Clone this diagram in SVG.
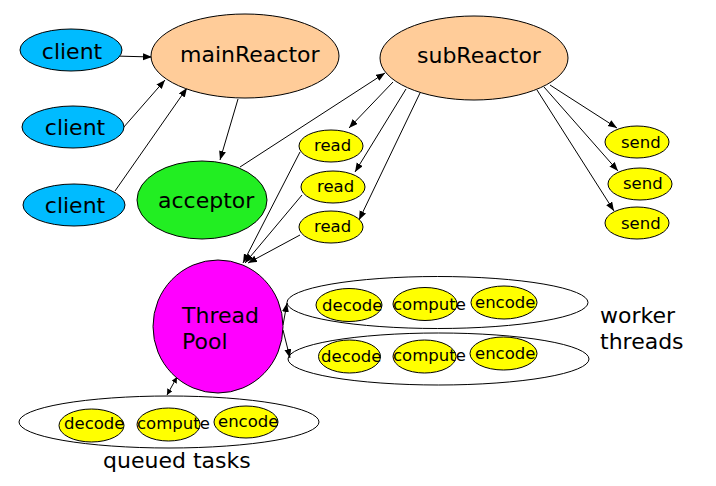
<svg xmlns="http://www.w3.org/2000/svg" width="716" height="486" viewBox="0 0 716 486">
<style>
  .n { stroke: #000; stroke-width: 1; }
  .client { fill: #00bbff; }
  .reactor { fill: #ffcc99; }
  .acc { fill: #22ee22; }
  .pool { fill: #ff00ff; }
  .y { fill: #ffff00; }
  .grp { fill: none; stroke: #000; stroke-width: 1; }
  .big { font-family: "DejaVu Sans", sans-serif; font-size: 22px; fill: #000; }
  .sm { font-family: "DejaVu Sans", sans-serif; font-size: 16.5px; fill: #000; }
  .c line { stroke: #000; stroke-width: 1; marker-end: url(#ah); }
</style>
<defs>
  <marker id="ah" markerUnits="userSpaceOnUse" markerWidth="10" markerHeight="8" refX="9" refY="3.5" orient="auto">
    <path d="M0,0 L9,3.5 L0,7 z" fill="#000"/>
  </marker>
  <marker id="ah2" markerUnits="userSpaceOnUse" markerWidth="8" markerHeight="7" refX="6" refY="3" orient="auto-start-reverse">
    <path d="M0,0 L6,3 L0,6 z" fill="#000"/>
  </marker>
</defs>
<rect width="716" height="486" fill="#fff"/>

<g id="connectors" class="c">
  <line x1="115" y1="56" x2="152" y2="57"/>
  <line x1="123" y1="128" x2="165" y2="80"/>
  <line x1="115" y1="191" x2="187" y2="88"/>
  <line x1="238" y1="99" x2="220" y2="160"/>
  <line x1="240" y1="167" x2="385" y2="73"/>
  <line x1="393" y1="82" x2="349" y2="128"/>
  <line x1="406" y1="89" x2="355" y2="172"/>
  <line x1="420" y1="93" x2="359" y2="220"/>
  <line x1="550" y1="85" x2="617" y2="128"/>
  <line x1="544" y1="87" x2="618" y2="171"/>
  <line x1="537" y1="90" x2="614" y2="211"/>
  <line x1="300" y1="152" x2="243" y2="263"/>
  <line x1="302" y1="195" x2="245" y2="263"/>
  <line x1="300" y1="235" x2="248" y2="263"/>
  <line x1="283" y1="325" x2="287" y2="303"/>
  <line x1="283" y1="330" x2="290" y2="358"/>
  <line x1="167" y1="395" x2="177" y2="377" style="marker-start:url(#ah2);marker-end:url(#ah2)"/>
</g>

<g id="client1"><ellipse class="n client" cx="71" cy="50" rx="51" ry="21"/><text class="big" x="72" y="59" text-anchor="middle">client</text></g>
<g id="client2"><ellipse class="n client" cx="73" cy="127" rx="51" ry="21"/><text class="big" x="75" y="135" text-anchor="middle">client</text></g>
<g id="client3"><ellipse class="n client" cx="74" cy="205" rx="51" ry="21"/><text class="big" x="75" y="213" text-anchor="middle">client</text></g>

<g id="mainReactor"><ellipse class="n reactor" cx="245" cy="56" rx="94" ry="42"/><text class="big" x="180" y="62">mainReactor</text></g>
<g id="subReactor"><ellipse class="n reactor" cx="474" cy="58" rx="94" ry="42"/><text class="big" x="417" y="63">subReactor</text></g>
<g id="acceptor"><ellipse class="n acc" cx="202" cy="200" rx="65" ry="39"/><text class="big" x="158" y="208">acceptor</text></g>

<g id="read1"><ellipse class="n y" cx="331" cy="146" rx="32" ry="16"/><text class="sm" x="314" y="151">read</text></g>
<g id="read2"><ellipse class="n y" cx="333" cy="187" rx="32" ry="16"/><text class="sm" x="317" y="192">read</text></g>
<g id="read3"><ellipse class="n y" cx="331" cy="227" rx="32" ry="16"/><text class="sm" x="314" y="232">read</text></g>

<g id="send1"><ellipse class="n y" cx="637" cy="142" rx="32" ry="16"/><text class="sm" x="621" y="148">send</text></g>
<g id="send2"><ellipse class="n y" cx="640" cy="184" rx="32" ry="16"/><text class="sm" x="623" y="189">send</text></g>
<g id="send3"><ellipse class="n y" cx="637" cy="223" rx="32" ry="16"/><text class="sm" x="621" y="229">send</text></g>

<g id="threadPool"><ellipse class="n pool" cx="218" cy="326.5" rx="65" ry="66.5"/><text class="big" x="182" y="323">Thread</text><text class="big" x="182" y="349">Pool</text></g>

<g id="worker1">
  <ellipse class="grp" cx="437.5" cy="302.5" rx="150.5" ry="26"/>
  <ellipse class="n y" cx="349" cy="305" rx="33" ry="16.5"/><text class="sm" x="322" y="311">decode</text>
  <ellipse class="n y" cx="425" cy="304" rx="32" ry="16.5"/><text class="sm" x="393" y="310">compute</text>
  <ellipse class="n y" cx="504" cy="302.5" rx="33" ry="16.5"/><text class="sm" x="475" y="308">encode</text>
</g>
<g id="worker2">
  <ellipse class="grp" cx="438.5" cy="359" rx="150.5" ry="26"/>
  <ellipse class="n y" cx="349.5" cy="356.5" rx="31" ry="16.5"/><text class="sm" x="321" y="362">decode</text>
  <ellipse class="n y" cx="424.5" cy="356.5" rx="31.5" ry="16.5"/><text class="sm" x="393" y="361">compute</text>
  <ellipse class="n y" cx="503.5" cy="353.5" rx="33.5" ry="16.5"/><text class="sm" x="475" y="359">encode</text>
</g>
<g id="workerLabel"><text class="big" x="600" y="323">worker</text><text class="big" x="600" y="349">threads</text></g>

<g id="queued">
  <ellipse class="grp" cx="169" cy="422" rx="150" ry="26"/>
  <ellipse class="n y" cx="91.5" cy="425.5" rx="32.5" ry="16.5"/><text class="sm" x="64" y="429">decode</text>
  <ellipse class="n y" cx="168.5" cy="424.5" rx="31.5" ry="16.5"/><text class="sm" x="137" y="429">compute</text>
  <ellipse class="n y" cx="246" cy="422" rx="32" ry="16"/><text class="sm" x="218" y="427">encode</text>
</g>
<g id="queuedLabel"><text class="big" x="103" y="468">queued tasks</text></g>
</svg>
